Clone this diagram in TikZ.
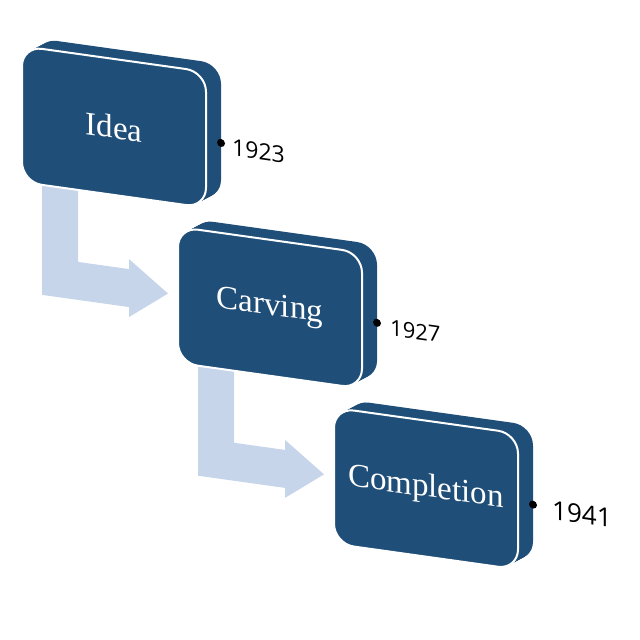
\documentclass[tikz,border=0pt]{standalone}
\usepackage{fontspec}
\setmainfont{Liberation Serif}
\newfontfamily\yearfont{Open Sans}
\definecolor{stageblue}{HTML}{1F4E79}
\definecolor{flowblue}{HTML}{C6D5EA}
\tikzset{
  stage/.style={fill=stageblue, draw=white, line width=2pt, rounded corners=20pt,
    minimum width=184pt, minimum height=136pt, inner sep=0pt, text=white,
    font=\fontsize{33}{40}\selectfont},
  year/.style={anchor=west, inner sep=0pt},
}

\begin{document}
\begin{tikzpicture}[x=1pt,y=-1pt]
  \useasboundingbox (0,0) rectangle (640,640);
  \begin{scope}[yslant=-0.14, transform shape]
    % bent arrows between the stages
    \fill[flowblue] (42,170) -- (78,170) -- (78,251) -- (129,251) -- (129,241) -- (168,270)
      -- (129,299) -- (129,289) -- (42,289) -- cycle;
    \fill[flowblue] (198,329) -- (234,329) -- (234,410) -- (285,410) -- (285,400) -- (324,429)
      -- (285,458) -- (285,448) -- (198,448) -- cycle;
    % depth of the boxes
    \foreach \cx/\cy in {114/111, 270/270, 426/429}
      \foreach \t in {0.1,0.2,...,1}
        \fill[stageblue, rounded corners=20pt] (\cx-92+15*\t, \cy-68-10*\t) rectangle ++(184,136);
    % front faces
    \node[stage] (idea) at (114,111) {Idea};
    \node[stage] (carving) at (270,270) {Carving};
    \node[stage] (completion) at (426,429) {Completion};
    % years
    \coordinate (d1) at (221,112);
    \coordinate (d2) at (377,270);
    \coordinate (d3) at (533,430);
    \fill (d1) circle[radius=4pt];
    \fill (d2) circle[radius=4pt];
    \fill (d3) circle[radius=4pt];
    \node[year, font=\yearfont\fontsize{23}{28}\selectfont] (y1923) at ([xshift=11pt,yshift=-3pt]d1) {1923};
    \node[year, font=\yearfont\fontsize{22}{27}\selectfont] (y1927) at ([xshift=13pt,yshift=-3pt]d2) {1927};
    \node[year, font=\yearfont\fontsize{26}{31}\selectfont] (y1941) at ([xshift=19pt,yshift=-3pt]d3) {1941};
  \end{scope}
\end{tikzpicture}
\end{document}
